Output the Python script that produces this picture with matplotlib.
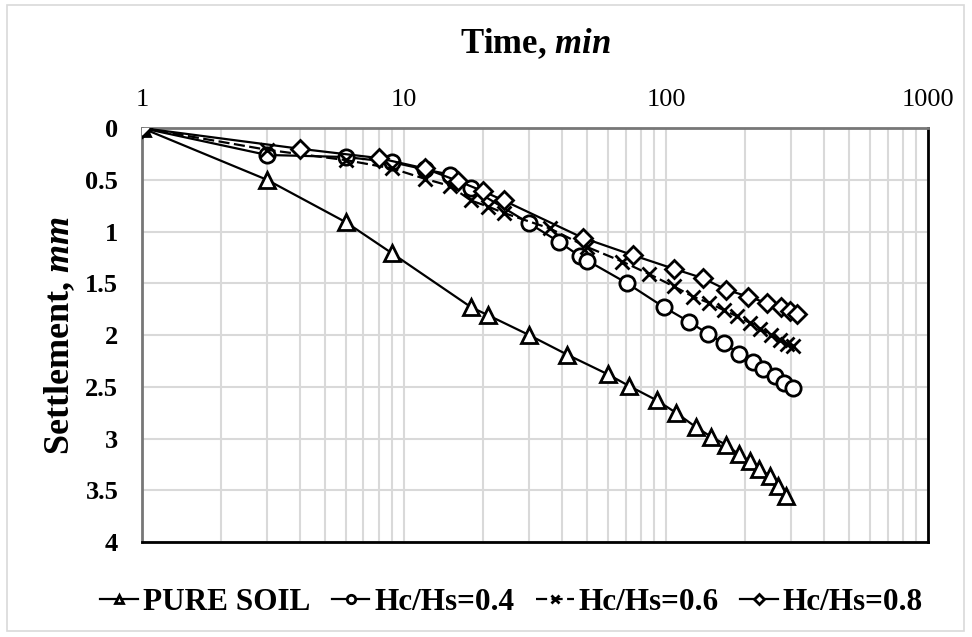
import numpy as np
import matplotlib.pyplot as plt
from matplotlib.patches import Rectangle

plt.rcParams['font.family'] = ['Liberation Serif', 'DejaVu Serif']
plt.rcParams['mathtext.fontset'] = 'custom'
plt.rcParams['mathtext.it'] = 'Liberation Serif:bold:italic'
plt.rcParams['mathtext.rm'] = 'Liberation Serif:bold'

# Données
t_pure = [1, 3, 6, 9, 18, 21, 30, 42, 60, 72, 92, 109, 130, 148, 169, 189, 209, 227, 248, 267, 287]
s_pure = [0, 0.5, 0.91, 1.21, 1.73, 1.81, 2.0, 2.19, 2.38, 2.49, 2.63, 2.75, 2.89, 2.98, 3.06, 3.15, 3.22, 3.29, 3.36, 3.46, 3.55]

t_04 = [1, 3, 6, 9, 12, 15, 18, 30, 39, 47, 50, 71, 98, 122, 145, 166, 190, 215, 235, 261, 282, 304]
s_04 = [0, 0.26, 0.28, 0.33, 0.40, 0.45, 0.58, 0.92, 1.10, 1.24, 1.28, 1.50, 1.73, 1.87, 1.99, 2.08, 2.18, 2.26, 2.33, 2.40, 2.46, 2.51]

t_06 = [1, 3, 6, 9, 12, 15, 18, 21, 24, 36, 50, 68, 86, 107, 127, 146, 166, 187, 208, 229, 251, 272, 289, 304]
s_06 = [0, 0.21, 0.31, 0.39, 0.49, 0.56, 0.70, 0.76, 0.82, 0.97, 1.15, 1.29, 1.41, 1.53, 1.63, 1.69, 1.76, 1.82, 1.88, 1.94, 2.0, 2.05, 2.09, 2.11]

t_08 = [1, 4, 8, 12, 16, 20, 24, 48, 75, 107, 138, 169, 206, 242, 274, 297, 315]
s_08 = [0, 0.2, 0.29, 0.39, 0.51, 0.61, 0.70, 1.06, 1.23, 1.36, 1.45, 1.56, 1.63, 1.69, 1.73, 1.77, 1.80]

fig = plt.figure(figsize=(9.72, 6.37), dpi=100)
ax = fig.add_axes([0.146, 0.149, 0.809, 0.650])

mk = dict(color='black', lw=1.6, markerfacecolor='white', markeredgecolor='black', mew=2.0, zorder=3)
ax.plot(t_pure, s_pure, marker='^', ms=11, label='PURE SOIL', **mk)
ax.plot(t_04, s_04, marker='o', ms=11, label='Hc/Hs=0.4', **mk)
ax.plot(t_06, s_06, marker='x', ms=10, ls=(0, (5, 2)), label='Hc/Hs=0.6', **mk)
ax.plot(t_08, s_08, marker='D', ms=9, label='Hc/Hs=0.8', **mk)

ax.set_xscale('log')
ax.set_xlim(1, 1000)
ax.set_ylim(4, 0)
ax.set_yticks(np.arange(0, 4.01, 0.5))
ax.set_yticklabels(['0', '0.5', '1', '1.5', '2', '2.5', '3', '3.5', '4'])
ax.set_xticks([1, 10, 100, 1000])
ax.set_xticklabels(['1', '10', '100', '1000'])
ax.xaxis.tick_top()
ax.xaxis.set_label_position('top')
ax.tick_params(axis='both', which='both', length=0)
ax.tick_params(axis='x', labelsize=19, pad=12)
ax.tick_params(axis='y', labelsize=19, pad=17)
for lab in ax.get_yticklabels():
    lab.set_fontweight('bold')

ax.grid(True, which='both', color='#d9d9d9', lw=1.5)
ax.set_axisbelow(True)

ax.spines['top'].set_color('#777777')
ax.spines['left'].set_color('#777777')
ax.spines['right'].set_color('black')
ax.spines['bottom'].set_color('black')
for sp in ax.spines.values():
    sp.set_linewidth(2)

ax.set_xlabel(r'Time, $\mathit{min}$', fontsize=25, fontweight='bold')
ax.xaxis.set_label_coords(0.5, 1.203)
ax.xaxis.label.set_va('center')
ax.set_ylabel(r'Settlement, $\mathit{mm}$', fontsize=26, fontweight='bold')
ax.yaxis.set_label_coords(-0.104, 0.5)
ax.yaxis.label.set_va('center')

leg = ax.legend(loc='center', bbox_to_anchor=(0.47, -0.145), ncol=4, frameon=False,
                prop={'family': 'Liberation Serif', 'size': 22.5, 'weight': 'bold'},
                handlelength=1.2, handletextpad=0.15, columnspacing=0.7, markerscale=0.55)

fig.patches.append(Rectangle((0.007, 0.01), 0.985, 0.982, transform=fig.transFigure,
                             fill=False, edgecolor='#d9d9d9', lw=1.2))

fig.savefig('out.png', dpi=100)
